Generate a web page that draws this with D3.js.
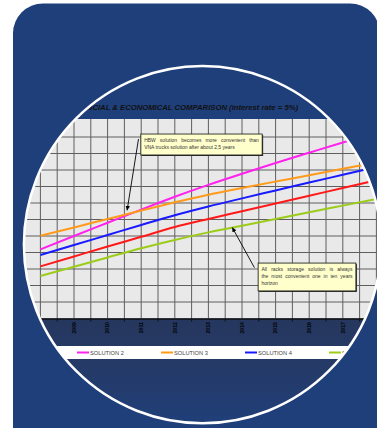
<!DOCTYPE html>
<html><head><meta charset="utf-8">
<script src="https://cdn.jsdelivr.net/npm/d3@7"></script>
<style>html,body{margin:0;padding:0;background:#fff;overflow:hidden}</style>
</head><body>
<svg id="c" width="377" height="428"></svg>
<script>
// ---------- data ----------
const years = ["2008","2009","2010","2011","2012","2013","2014","2015","2016","2017","2018"];
const labelledYears = ["2008","2009","2010","2011","2012","2013","2014","2015","2016","2017"];
const seriesNames = ["SOLUTION 1","SOLUTION 2","SOLUTION 3","SOLUTION 4","SOLUTION 5"];
const seriesColors = ["#ff1a1a","#ff22ee","#ff9a1a","#1a1aff","#9ccc1a"];
const solution1 = [3.16, 3.76, 4.36, 4.95, 5.55, 6.03, 6.50, 6.97, 7.44, 7.91, 8.38];
const solution2 = [4.19, 5.00, 5.80, 6.60, 7.38, 8.10, 8.77, 9.42, 10.05, 10.67, 11.25];
const solution3 = [5.02, 5.52, 6.03, 6.54, 7.04, 7.50, 7.91, 8.30, 8.68, 9.07, 9.45];
const solution4 = [3.85, 4.45, 5.06, 5.67, 6.26, 6.79, 7.28, 7.76, 8.24, 8.71, 9.18];
const solution5 = [2.58, 3.14, 3.70, 4.26, 4.76, 5.22, 5.62, 6.03, 6.44, 6.84, 7.24];
const seriesValues = [solution1, solution2, solution3, solution4, solution5];
const yTicks = [1,2,3,4,5,6,7,8,9,10,11];
const titleText = "FINANCIAL & ECONOMICAL COMPARISON (interest rate = 5%)";
const note1Lines = ["HBW solution becomes more convenient than", "VNA trucks solution after about 2,5 years"];
const note2Lines = ["All racks storage solution is always", "the most convenient one in ten years", "horizon"];

// ---------- layout ----------
const svg = d3.select("#c");
const W = 377, H = 428;
const plotL = 23.6, plotR = 393.2, plotT = 120.5, plotB = 318.5;
const circ = {cx: 202.5, cy: 244.7, r: 178.6};

const x = d3.scaleBand().domain(years).range([plotL, plotR]).padding(0);
const bw = x.bandwidth();
const cx = d => x(d) + bw / 2;
const fx = f => x(years[0]) + bw / 2 + f * bw;   // fractional category index
const y = d3.scaleLinear().domain([0, 12]).range([plotB, plotT]);

const defs = svg.append("defs");
defs.append("clipPath").attr("id", "circ")
  .append("circle").attr("cx", circ.cx).attr("cy", circ.cy).attr("r", circ.r);
const grad = defs.append("linearGradient").attr("id", "bandGrad")
  .attr("x1", 0).attr("y1", 0).attr("x2", 0).attr("y2", 1);
grad.append("stop").attr("offset", "0%").attr("stop-color", "#26375e");
grad.append("stop").attr("offset", "40%").attr("stop-color", "#253a66");
grad.append("stop").attr("offset", "100%").attr("stop-color", "#1f3f7a");
defs.append("marker").attr("id", "ah").attr("viewBox", "0 0 6 6")
  .attr("refX", 6).attr("refY", 3).attr("markerWidth", 4.5).attr("markerHeight", 4.5)
  .attr("markerUnits", "userSpaceOnUse").attr("orient", "auto")
  .append("path").attr("d", "M0,0L6,3L0,6Z").attr("fill", "#000");

// card
svg.append("rect").attr("x", 13).attr("y", 3.5).attr("width", 367).attr("height", 500)
  .attr("rx", 30).attr("fill", "#1f3f7a");

const g = svg.append("g").attr("clip-path", "url(#circ)");

// dark band below plot
g.append("rect").attr("x", 0).attr("y", plotB).attr("width", W).attr("height", H - plotB)
  .attr("fill", "url(#bandGrad)");

// plot background
g.append("rect").attr("x", plotL).attr("y", y(12) - 1.5).attr("width", plotR - plotL)
  .attr("height", plotB - y(12) + 1.5).attr("fill", "#e9e9e9");

// vertical grid (band edges + centres)
const vLines = [];
years.forEach(d => { vLines.push(x(d)); vLines.push(cx(d)); });
vLines.push(plotR);
g.append("g").selectAll("line").data(vLines).join("line")
  .attr("x1", d => d).attr("x2", d => d).attr("y1", y(12) - 1.5).attr("y2", plotB)
  .attr("stroke", "#5e5e5e").attr("stroke-width", 1);

// horizontal grid
g.append("g").selectAll("line").data(yTicks).join("line")
  .attr("x1", plotL).attr("x2", plotR).attr("y1", d => y(d)).attr("y2", d => y(d))
  .attr("stroke", "#5e5e5e").attr("stroke-width", 1);

// x axis
const xAxis = d3.axisBottom(x).tickValues(labelledYears).tickSize(0).tickPadding(0);
const ax = g.append("g").attr("transform", `translate(0,${plotB})`).call(xAxis);
ax.select(".domain").attr("stroke", "#111").attr("stroke-width", 1.5);
ax.selectAll(".tick text")
  .attr("transform", "translate(0,3.5) rotate(-90)")
  .attr("text-anchor", "end").attr("x", 0).attr("y", 0).attr("dy", "0.35em")
  .attr("font-family", "Liberation Sans, Arial, sans-serif")
  .attr("font-size", 5.2).attr("font-weight", "bold").attr("fill", "#000");
// tick marks at band edges
g.append("g").selectAll("line").data(years.map(d => x(d)).concat([plotR])).join("line")
  .attr("x1", d => d).attr("x2", d => d).attr("y1", plotB).attr("y2", plotB + 3)
  .attr("stroke", "#111").attr("stroke-width", 1);

// series lines
const line = d3.line().x((v, i) => cx(years[i])).y(v => y(v)).curve(d3.curveMonotoneX);
g.append("g").selectAll("path").data(seriesValues).join("path")
  .attr("d", d => line(d)).attr("fill", "none")
  .attr("stroke", (d, i) => seriesColors[i]).attr("stroke-width", 2);

// ---------- annotations ----------
const FONT = "Liberation Sans, Arial, sans-serif";
function note(lines, box, justifyCount, arrow) {
  const x0 = fx(box[0]), x1 = fx(box[1]), yt = y(box[2]), yb = y(box[3]);
  const ng = g.append("g");
  ng.append("line").attr("x1", fx(arrow[0])).attr("y1", y(arrow[1]))
    .attr("x2", fx(arrow[2])).attr("y2", y(arrow[3]))
    .attr("stroke", "#000").attr("stroke-width", 0.9).attr("marker-end", "url(#ah)");
  ng.append("rect").attr("x", x0 + 1).attr("y", yt + 1).attr("width", x1 - x0).attr("height", yb - yt)
    .attr("fill", "#333");
  ng.append("rect").attr("x", x0).attr("y", yt).attr("width", x1 - x0).attr("height", yb - yt)
    .attr("fill", "#ffffcc").attr("stroke", "#111").attr("stroke-width", 0.8);
  const pad = 3.3, tw = (x1 - x0) - 2 * pad;
  lines.forEach((ln, li) => {
    const base = yt + 8.3 + li * 6.7;
    const words = ln.split(" ");
    if (li < justifyCount) {
      const tmp = ng.append("text").attr("font-family", FONT).attr("font-size", 5);
      const widths = words.map(w => { tmp.text(w); return tmp.node().getComputedTextLength(); });
      tmp.remove();
      const gap = (tw - d3.sum(widths)) / (words.length - 1);
      let xx = x0 + pad;
      words.forEach((w, wi) => {
        ng.append("text").attr("x", xx).attr("y", base).text(w)
          .attr("font-family", FONT).attr("font-size", 5).attr("fill", "#333");
        xx += widths[wi] + gap;
      });
    } else {
      ng.append("text").attr("x", x0 + pad).attr("y", base).text(ln)
        .attr("font-family", FONT).attr("font-size", 5).attr("fill", "#333");
    }
  });
}
note(note1Lines, [2.99, 6.6, 11.18, 9.91], 1, [2.92, 10.88, 2.58, 6.55]);
note(note2Lines, [6.48, 9.39, 3.36, 1.67], 2, [6.37, 3.08, 5.71, 5.52]);

// title
g.append("text").attr("x", 183.5).attr("y", 109.5).attr("text-anchor", "middle")
  .attr("font-family", FONT).attr("font-size", 7.7).attr("font-weight", "bold")
  .attr("font-style", "italic").attr("fill", "#111").text(titleText);

// legend
g.append("rect").attr("x", 0).attr("y", 346).attr("width", W).attr("height", 13).attr("fill", "#fff");
const lg = g.append("g").selectAll("g").data(seriesNames).join("g")
  .attr("transform", (d, i) => `translate(${-7 + 84 * i},352.5)`);
lg.append("line").attr("x1", 0).attr("x2", 12).attr("y1", 0).attr("y2", 0)
  .attr("stroke", (d, i) => seriesColors[i]).attr("stroke-width", 2);
lg.append("text").attr("x", 13).attr("y", 0).attr("dy", "0.35em").text(d => d)
  .attr("font-family", FONT).attr("font-size", 5.7).attr("fill", "#444");

// circle border
svg.append("circle").attr("cx", circ.cx).attr("cy", circ.cy).attr("r", circ.r)
  .attr("fill", "none").attr("stroke", "#fff").attr("stroke-width", 2.5);
</script>
</body></html>
